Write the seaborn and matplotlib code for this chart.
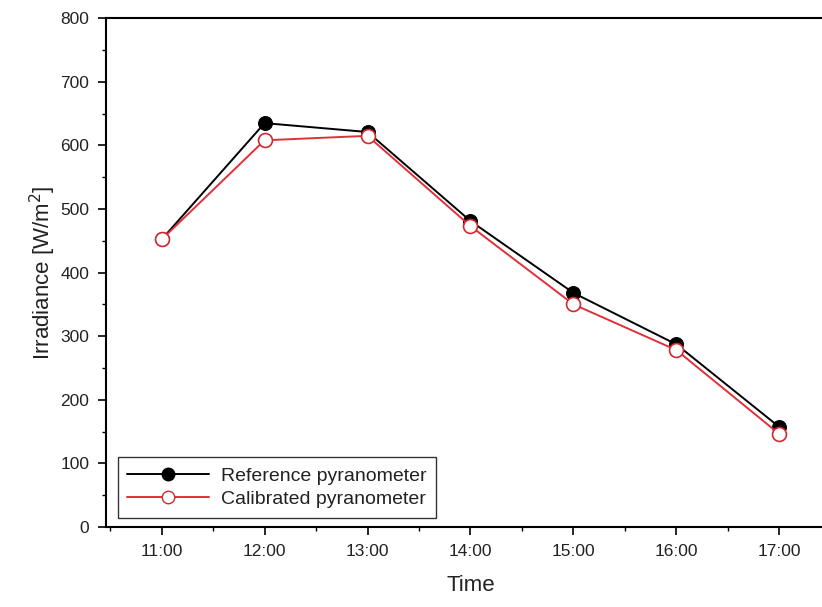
import pandas as pd
import matplotlib.pyplot as plt
import seaborn as sns
from matplotlib.ticker import MultipleLocator
from matplotlib.lines import Line2D

times = ["11:00", "12:00", "13:00", "14:00", "15:00", "16:00", "17:00"]
reference = [452, 635, 621, 481, 368, 287, 157]
calibrated = [452, 608, 615, 473, 350, 278, 146]

df = pd.DataFrame({"Time": times, "Reference": reference, "Calibrated": calibrated})

sns.set_style("white")
plt.rcParams['font.family'] = ['Liberation Sans', 'DejaVu Sans']

fig = plt.figure(figsize=(8.22, 6.07), dpi=100)
ax = fig.add_axes([0.129, 0.132, 0.888, 0.838])

# Reference pyranometer (filled black)
sns.lineplot(data=df, x="Time", y="Reference", ax=ax, color="black",
             marker="o", markersize=10, markerfacecolor="black",
             markeredgecolor="black", linewidth=1.4, sort=False)
# Calibrated pyranometer (open red)
sns.lineplot(data=df, x="Time", y="Calibrated", ax=ax, color="#e0303a",
             marker="o", markersize=10, markerfacecolor="white",
             markeredgecolor="#d02a30", markeredgewidth=1.2,
             linewidth=1.4, sort=False)

ax.set_xlim(-0.54, 6.55)
ax.set_ylim(0, 800)
ax.yaxis.set_major_locator(MultipleLocator(100))
ax.yaxis.set_minor_locator(MultipleLocator(50))
ax.xaxis.set_minor_locator(MultipleLocator(0.5))

for s in ax.spines.values():
    s.set_color("black")
    s.set_linewidth(1.5)

ax.tick_params(which="major", direction="out", length=6, width=1.2,
               labelsize=12.5, pad=6, colors="black", labelcolor="#222222",
               bottom=True, left=True, top=False, right=False)
ax.tick_params(which="minor", direction="out", length=3, width=1.0,
               colors="black", bottom=True, left=True, top=False, right=False)

ax.set_xlabel("Time", fontsize=16, labelpad=12, color="#222222")
ax.set_ylabel("Irradiance [W/m$^2$]", fontsize=16, labelpad=2, color="#222222")

handles = [
    Line2D([], [], color="black", marker="o", markersize=9,
           markerfacecolor="black", linewidth=1.4),
    Line2D([], [], color="#e0303a", marker="o", markersize=9,
           markerfacecolor="white", markeredgecolor="#d02a30", linewidth=1.4),
]
leg = ax.legend(handles, ["Reference pyranometer", "Calibrated pyranometer"],
                loc="lower left", fontsize=14, frameon=True, fancybox=False,
                edgecolor="black", handlelength=4.2, borderpad=0.5,
                labelspacing=0.3, handletextpad=0.6, borderaxespad=0,
                bbox_to_anchor=(0.016, 0.018))
leg.get_frame().set_linewidth(1.0)
for t in leg.get_texts():
    t.set_color("#222222")

plt.savefig("out.png", dpi=100)
